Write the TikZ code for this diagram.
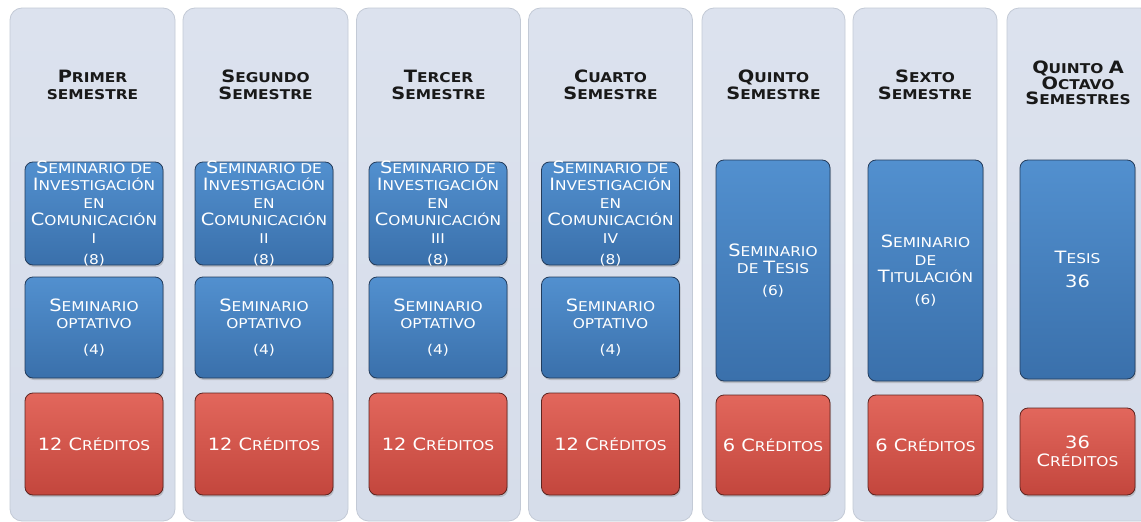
\documentclass[tikz,border=0pt]{standalone}
\usepackage{fontspec}
\usepackage{tikz}
\usepackage{xcolor}
\usetikzlibrary{shadows}

\newfontfamily\cpfont{DejaVu Sans}[FakeStretch=1.14]
% letra grande + versalitas
\newcommand{\cp}[2]{{\fontsize{17}{17.5}\selectfont#1}{\fontsize{13.5}{17.5}\selectfont#2}}

\definecolor{colbgtop}{HTML}{DCE2EE}
\definecolor{colbgbot}{HTML}{D6DDEA}
\definecolor{colline}{HTML}{C3CAD6}
\definecolor{bluetop}{HTML}{5290CF}
\definecolor{bluebot}{HTML}{3A70AB}
\definecolor{blueline}{HTML}{233C5C}
\definecolor{redtop}{HTML}{E2675C}
\definecolor{redbot}{HTML}{C3463D}
\definecolor{redline}{HTML}{5E2420}

\begin{document}
\begin{tikzpicture}[x=1pt,y=-1pt]
\tikzstyle{every node}+=[inner sep=0pt, align=center, font=\cpfont\fontsize{13.5}{17.5}\selectfont]
\tikzstyle{semcol}=[draw=colline, line width=0.8pt, rounded corners=12pt, top color=colbgtop, bottom color=colbgbot, minimum height=513pt]
\tikzstyle{semtitle}=[text=black!90, font=\cpfont\bfseries\fontsize{13.5}{17.5}\selectfont]
\tikzstyle{bluebox}=[draw=blueline, line width=0.8pt, rounded corners=8pt, top color=bluetop, bottom color=bluebot, text=white, drop shadow={opacity=0.35, shadow xshift=1pt, shadow yshift=-2pt}]
\tikzstyle{redbox}=[draw=redline, line width=0.8pt, rounded corners=8pt, top color=redtop, bottom color=redbot, text=white, drop shadow={opacity=0.35, shadow xshift=1pt, shadow yshift=-2pt}]
\useasboundingbox (0,0) rectangle (1141,522);
\clip (0,0) rectangle (1141,522);
\fill [white] (0,0) rectangle (1141,522);
% columnas
\node [semcol, minimum width=165pt] (col1) at (92.5,264.5) {};
\node [semcol, minimum width=165pt] (col2) at (265.5,264.5) {};
\node [semcol, minimum width=164pt] (col3) at (438.5,264.5) {};
\node [semcol, minimum width=164pt] (col4) at (610.5,264.5) {};
\node [semcol, minimum width=143pt] (col5) at (773.5,264.5) {};
\node [semcol, minimum width=144pt] (col6) at (925,264.5) {};
\node [semcol, minimum width=145pt] (col7) at (1079.5,264.5) {};
% titulos
\node [semtitle] (title1) at (92.5,85) {\cp{P}{RIMER}\\\cp{}{SEMESTRE}};
\node [semtitle] (title2) at (265.5,85) {\cp{S}{EGUNDO}\\\cp{S}{EMESTRE}};
\node [semtitle] (title3) at (438.5,85) {\cp{T}{ERCER}\\\cp{S}{EMESTRE}};
\node [semtitle] (title4) at (610.5,85) {\cp{C}{UARTO}\\\cp{S}{EMESTRE}};
\node [semtitle] (title5) at (773.5,85) {\cp{Q}{UINTO}\\\cp{S}{EMESTRE}};
\node [semtitle] (title6) at (925,85) {\cp{S}{EXTO}\\\cp{S}{EMESTRE}};
\node [semtitle] (title7) at (1078,83) {\cp{Q}{UINTO} \cp{A}{}\\[-2pt]\cp{O}{CTAVO}\\[-2pt]\cp{S}{EMESTRES}};
% seminarios de investigacion
\node [bluebox, minimum width=138pt, minimum height=103pt] (inv1) at (94,213.5) {};
\node [text=white] (inv1t) at (inv1) {\cp{S}{EMINARIO DE}\\\cp{I}{NVESTIGACIÓN}\\\cp{}{EN}\\\cp{C}{OMUNICACIÓN}\\\cp{}{I}\\[4pt]\cp{}{(8)}};
\node [bluebox, minimum width=138pt, minimum height=103pt] (inv2) at (264,213.5) {};
\node [text=white] (inv2t) at (inv2) {\cp{S}{EMINARIO DE}\\\cp{I}{NVESTIGACIÓN}\\\cp{}{EN}\\\cp{C}{OMUNICACIÓN}\\\cp{}{II}\\[4pt]\cp{}{(8)}};
\node [bluebox, minimum width=138pt, minimum height=103pt] (inv3) at (438,213.5) {};
\node [text=white] (inv3t) at (inv3) {\cp{S}{EMINARIO DE}\\\cp{I}{NVESTIGACIÓN}\\\cp{}{EN}\\\cp{C}{OMUNICACIÓN}\\\cp{}{III}\\[4pt]\cp{}{(8)}};
\node [bluebox, minimum width=138pt, minimum height=103pt] (inv4) at (610.5,213.5) {};
\node [text=white] (inv4t) at (inv4) {\cp{S}{EMINARIO DE}\\\cp{I}{NVESTIGACIÓN}\\\cp{}{EN}\\\cp{C}{OMUNICACIÓN}\\\cp{}{IV}\\[4pt]\cp{}{(8)}};
% optativos
\node [bluebox, minimum width=138pt, minimum height=101pt] (opt1) at (94,327.5) {\cp{S}{EMINARIO}\\\cp{}{OPTATIVO}\\[8pt]\cp{}{(4)}};
\node [bluebox, minimum width=138pt, minimum height=101pt] (opt2) at (264,327.5) {\cp{S}{EMINARIO}\\\cp{}{OPTATIVO}\\[8pt]\cp{}{(4)}};
\node [bluebox, minimum width=138pt, minimum height=101pt] (opt3) at (438,327.5) {\cp{S}{EMINARIO}\\\cp{}{OPTATIVO}\\[8pt]\cp{}{(4)}};
\node [bluebox, minimum width=138pt, minimum height=101pt] (opt4) at (610.5,327.5) {\cp{S}{EMINARIO}\\\cp{}{OPTATIVO}\\[8pt]\cp{}{(4)}};
% tesis
\node [bluebox, minimum width=114pt, minimum height=221pt] (tes5) at (773,270.5) {\cp{S}{EMINARIO}\\\cp{}{DE }\cp{T}{ESIS}\\[4pt]\cp{}{(6)}};
\node [bluebox, minimum width=115pt, minimum height=221pt] (tes6) at (925.5,270.5) {\cp{S}{EMINARIO}\\\cp{}{DE}\\\cp{T}{ITULACIÓN}\\[4pt]\cp{}{(6)}};
\node [bluebox, minimum width=115pt, minimum height=219pt] (tes7) at (1077.5,269.5) {\cp{T}{ESIS}\\[7pt]\cp{36}{}};
% creditos
\node [redbox, minimum width=138pt, minimum height=102pt] (cred1) at (94,444) {\cp{12 C}{RÉDITOS}};
\node [redbox, minimum width=138pt, minimum height=102pt] (cred2) at (264,444) {\cp{12 C}{RÉDITOS}};
\node [redbox, minimum width=138pt, minimum height=102pt] (cred3) at (438,444) {\cp{12 C}{RÉDITOS}};
\node [redbox, minimum width=138pt, minimum height=102pt] (cred4) at (610.5,444) {\cp{12 C}{RÉDITOS}};
\node [redbox, minimum width=114pt, minimum height=100pt] (cred5) at (773,445) {\cp{6 C}{RÉDITOS}};
\node [redbox, minimum width=115pt, minimum height=100pt] (cred6) at (925.5,445) {\cp{6 C}{RÉDITOS}};
\node [redbox, minimum width=115pt, minimum height=87pt] (cred7) at (1077.5,451.5) {\cp{36}{}\\\cp{C}{RÉDITOS}};
\end{tikzpicture}
\end{document}
